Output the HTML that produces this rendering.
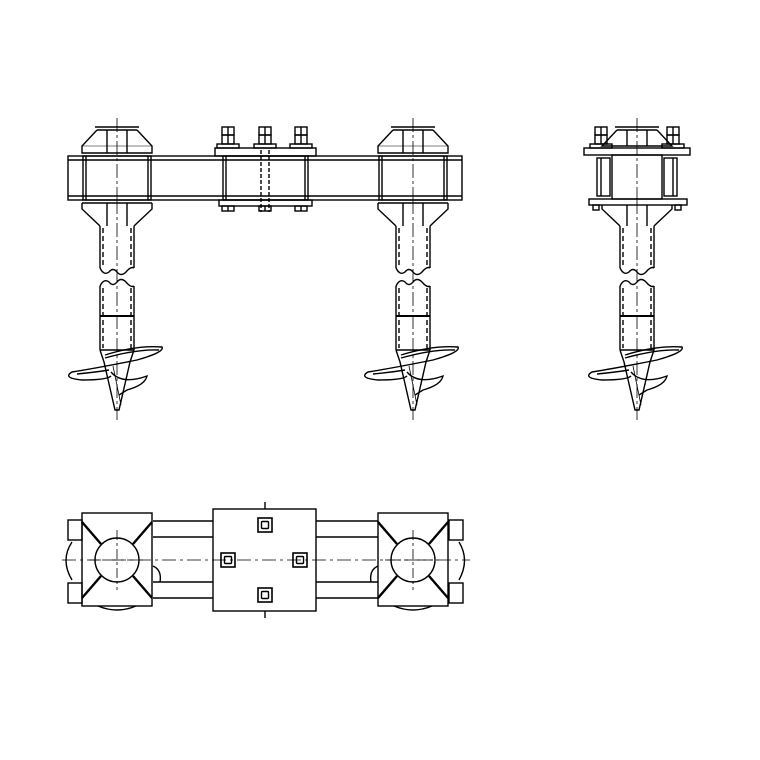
<!DOCTYPE html>
<html><head><meta charset="utf-8"><style>html,body{margin:0;padding:0;background:#fff}svg{display:block}</style></head>
<body>
<svg width="760" height="760" viewBox="0 0 760 760" xmlns="http://www.w3.org/2000/svg" fill="none" stroke="#000" stroke-width="1.4">
<defs>
<g id="pile">
  <line x1="-17" y1="226" x2="-17" y2="268"/><line x1="17" y1="226" x2="17" y2="268"/>
  <line x1="-14" y1="228" x2="-14" y2="268" stroke-dasharray="5,3"/><line x1="14" y1="228" x2="14" y2="268" stroke-dasharray="5,3"/>
  <path d="M-17 268 q4 8 9 4 q4-5 8 0 q4 5 9 0 q5-6 8 -4"/>
  <path d="M-17 286 q4 -8 9 -4 q4 5 8 0 q4 -5 9 0 q5 6 8 4"/>
  <line x1="-17" y1="286" x2="-17" y2="350"/><line x1="17" y1="286" x2="17" y2="350"/>
  <line x1="-14" y1="288" x2="-14" y2="348" stroke-dasharray="5,3"/><line x1="14" y1="288" x2="14" y2="348" stroke-dasharray="5,3"/>
  <line x1="-17" y1="316" x2="17" y2="316" stroke-width="2"/>
  <line x1="-17" y1="350" x2="17" y2="350"/>
  <path d="M-17 350 L-13 362 L-2 410 L2 410 L13 362 L17 350"/>
  <path d="M-12 355 Q20 345 45 347 Q48 352 20 360 Q-20 368 -45 372 Q-55 378 -35 380 Q-10 380 -6 376"/>
  <path d="M-12 358 Q20 349 42 350 M-40 374 Q-20 372 -8 370"/>
  <path d="M-6 372 Q5 385 30 376 Q28 385 10 390 L2 395"/>
  <path d="M-4 366 L4 405" stroke-width="0.8"/>
  <line x1="0" y1="200" x2="0" y2="420" stroke-dasharray="14,3,3,3" stroke-width="0.8"/>
</g>
<g id="hubF">
  <rect x="-34" y="156" width="68" height="44"/>
  <line x1="-31" y1="156" x2="-31" y2="200"/><line x1="31" y1="156" x2="31" y2="200"/>
  <line x1="-22" y1="127" x2="22" y2="127"/><line x1="-20" y1="130" x2="20" y2="130"/>
  <path d="M-20 130 L-35 146 L-35 153 L35 153 L35 146 L20 130"/>
  <line x1="-35" y1="146" x2="35" y2="146" stroke-width="0.6"/>
  <line x1="-10" y1="130" x2="-10" y2="153"/><line x1="10" y1="130" x2="10" y2="153"/>
  <path d="M-35 203 L-35 209 L-17 226 M35 203 L35 209 L17 226"/>
  <line x1="-35" y1="203" x2="35" y2="203"/>
  <line x1="-10" y1="203" x2="-10" y2="226"/><line x1="10" y1="203" x2="10" y2="226"/>
  <line x1="0" y1="118" x2="0" y2="200" stroke-dasharray="14,3,3,3" stroke-width="0.8"/>
</g>
<g id="bolt">
  <rect x="-6" y="127" width="12" height="8"/><rect x="-6" y="135" width="12" height="9"/>
  <line x1="0" y1="127" x2="0" y2="144"/><rect x="-11" y="144" width="22" height="4"/>
</g>
<g id="nut"><rect x="-6" y="206" width="12" height="5"/><line x1="0" y1="206" x2="0" y2="211"/></g>
<g id="sq"><rect x="-7" y="-7" width="14" height="14" stroke-width="1.6"/><rect x="-3.5" y="-3.5" width="7" height="7" rx="1"/></g>
<g id="hubP">
  <rect x="-35" y="-47" width="70" height="93"/>
  <circle cx="0" cy="0" r="22"/>
  <path d="M-35 -38 L-16 -16 M35 -38 L16 -16 M-35 38 L-16 16 M35 38 L16 16" stroke-width="2.4"/>
  <line x1="0" y1="-30" x2="0" y2="30" stroke-dasharray="10,3,3,3" stroke-width="0.8"/>
  <line x1="-28" y1="0" x2="28" y2="0" stroke-dasharray="10,3,3,3" stroke-width="0.8"/>
</g>
</defs>

<rect x="68" y="156" width="394" height="44"/>
<line x1="68" y1="160" x2="462" y2="160"/><line x1="68" y1="196" x2="462" y2="196"/>
<use href="#hubF" transform="translate(117,0)"/>
<use href="#hubF" transform="translate(413,0)"/>
<use href="#pile" transform="translate(117,0)"/>
<use href="#pile" transform="translate(413,0)"/>
<rect x="215" y="148" width="101" height="8"/>
<rect x="223" y="156" width="85" height="44"/>
<line x1="226" y1="156" x2="226" y2="200"/><line x1="305" y1="156" x2="305" y2="200"/>
<rect x="219" y="200" width="93" height="6"/>
<use href="#bolt" transform="translate(228,0)"/>
<use href="#bolt" transform="translate(265,0)"/>
<use href="#bolt" transform="translate(301,0)"/>
<use href="#nut" transform="translate(228,0)"/>
<use href="#nut" transform="translate(265,0)"/>
<use href="#nut" transform="translate(301,0)"/>
<line x1="261" y1="150" x2="261" y2="212" stroke-dasharray="4,2"/><line x1="269" y1="150" x2="269" y2="212" stroke-dasharray="4,2"/>

<g transform="translate(637,0)">
  <line x1="-22" y1="127" x2="22" y2="127"/><line x1="-20" y1="130" x2="20" y2="130"/>
  <path d="M-20 130 L-35 146 L35 146 L20 130"/>
  <line x1="-10" y1="130" x2="-10" y2="146"/><line x1="10" y1="130" x2="10" y2="146"/>
  <rect x="-53" y="148" width="106" height="7"/>
  <rect x="-25" y="155" width="50" height="44"/>
  <rect x="-40" y="158" width="13" height="38"/><rect x="27" y="158" width="13" height="38"/>
  <line x1="-36" y1="158" x2="-36" y2="196"/><line x1="36" y1="158" x2="36" y2="196"/>
  <rect x="-48" y="199" width="98" height="6"/>
  <path d="M-35 205 L-35 209 L-17 226 M35 205 L35 209 L17 226"/>
  <line x1="-10" y1="205" x2="-10" y2="226"/><line x1="10" y1="205" x2="10" y2="226"/>
  <rect x="-44" y="205" width="6" height="5"/><rect x="38" y="205" width="6" height="5"/>
  <g transform="translate(-36,0)"><use href="#bolt"/></g>
  <g transform="translate(36,0)"><use href="#bolt"/></g>
  <line x1="0" y1="118" x2="0" y2="200" stroke-dasharray="14,3,3,3" stroke-width="0.8"/>
  <use href="#pile"/>
</g>

<line x1="153" y1="521" x2="213" y2="521"/><line x1="153" y1="537" x2="213" y2="537"/>
<line x1="153" y1="582" x2="213" y2="582"/><line x1="153" y1="598" x2="213" y2="598"/>
<line x1="316" y1="521" x2="378" y2="521"/><line x1="316" y1="537" x2="378" y2="537"/>
<line x1="316" y1="582" x2="378" y2="582"/><line x1="316" y1="598" x2="378" y2="598"/>
<rect x="68" y="520" width="14" height="20"/><rect x="68" y="583" width="14" height="20"/>
<rect x="449" y="520" width="14" height="20"/><rect x="449" y="583" width="14" height="20"/>
<path d="M72 542 Q60 560 72 580 M153 566 Q162 570 160 582 M98 606 Q117 614 136 606"/>
<path d="M459 542 Q470 560 459 580 M378 566 Q369 570 371 582 M394 606 Q413 614 432 606"/>
<use href="#hubP" transform="translate(117,560)"/>
<use href="#hubP" transform="translate(413,560)"/>
<rect x="213" y="509" width="103" height="102"/>
<use href="#sq" transform="translate(265,525)"/>
<use href="#sq" transform="translate(228,560)"/>
<use href="#sq" transform="translate(300,560)"/>
<use href="#sq" transform="translate(265,595)"/>
<line x1="265" y1="502" x2="265" y2="509"/><line x1="265" y1="611" x2="265" y2="618"/>
<line x1="62" y1="560" x2="470" y2="560" stroke-dasharray="14,4,3,4" stroke-width="0.8"/>
</svg>
</body></html>
